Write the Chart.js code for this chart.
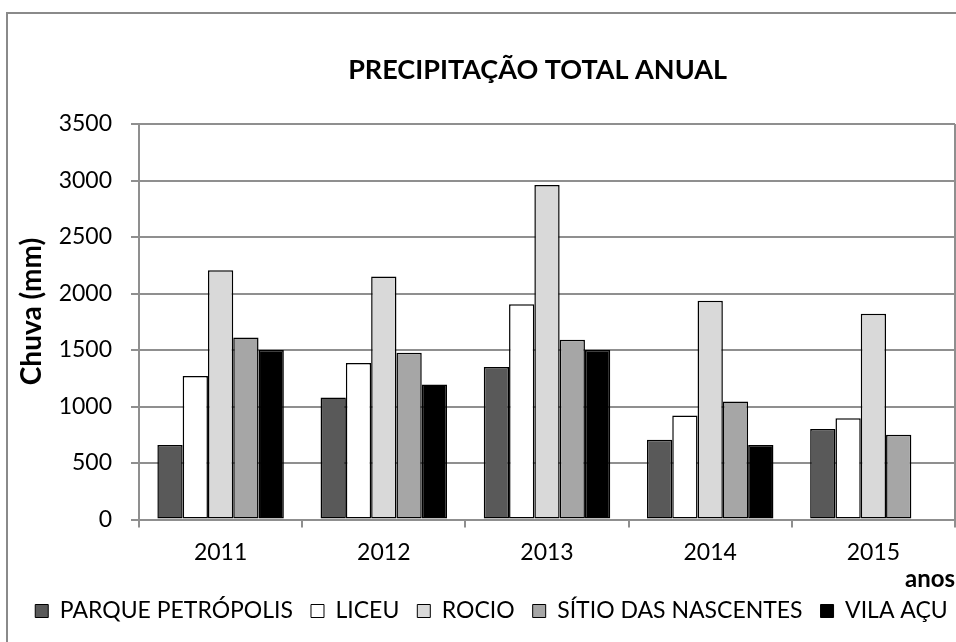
<!DOCTYPE html>
<html>
<head>
<meta charset="utf-8">
<script src="https://cdn.jsdelivr.net/npm/chart.js@4.4.1/dist/chart.umd.min.js"></script>
<style>
  html, body { margin: 0; padding: 0; background: #ffffff; }
  canvas { display: block; }
</style>
</head>
<body>
<canvas id="chart" width="956" height="642"></canvas>
<script>
// ---- data ----
const categories = ['2011', '2012', '2013', '2014', '2015'];
const parquePetropolis = [660, 1080, 1350, 705, 800];
const liceu = [1270, 1385, 1905, 920, 895];
const rocio = [2205, 2150, 2960, 1935, 1820];
const sitioDasNascentes = [1610, 1475, 1590, 1045, 750];
const vilaAcu = [1500, 1195, 1500, 660, null];
const seriesNames = ['PARQUE PETRÓPOLIS', 'LICEU', 'ROCIO', 'SÍTIO DAS NASCENTES', 'VILA AÇU'];
const yTicks = [0, 500, 1000, 1500, 2000, 2500, 3000, 3500];
const chartTitle = 'PRECIPITAÇÃO TOTAL ANUAL';
const yTitle = 'Chuva (mm)';
const xTitle = 'anos';

// ---- styles ----
const FONT = 'Lato, "Open Sans", sans-serif';
const GRID = '#8f8f8f';
const fills = ['#595959', '#ffffff', '#d9d9d9', '#a6a6a6', '#000000'];
const seriesData = [parquePetropolis, liceu, rocio, sitioDasNascentes, vilaAcu];

const frame = {
  id: 'frame',
  beforeDraw(chart) {
    const c = chart.ctx;
    c.save();
    c.fillStyle = '#ffffff';
    c.fillRect(0, 0, chart.width, chart.height);
    c.strokeStyle = '#8a8a8a';
    c.lineWidth = 2;
    c.strokeRect(7, 13, 2000, 2000);
    c.restore();
  }
};

// nudge the legend row a little to the right, as in the reference
const legendShift = {
  id: 'legendShift',
  afterLayout(chart) {
    if (chart.legend) { chart.legend.left += 14; chart.legend.right += 14; }
  }
};

new Chart(document.getElementById('chart'), {
  type: 'bar',
  data: {
    labels: categories,
    datasets: seriesData.map((d, i) => ({
      label: seriesNames[i],
      data: d,
      backgroundColor: fills[i],
      borderColor: '#000000',
      borderWidth: 1.5,
      borderSkipped: false,
      categoryPercentage: 0.775,
      barPercentage: 1.0
    }))
  },
  options: {
    responsive: false,
    devicePixelRatio: 1,
    animation: false,
    layout: { padding: { left: 0, right: 1, top: 14, bottom: 9.5 } },
    plugins: {
      title: {
        display: true,
        text: chartTitle + '\u00a0\u00a0\u00a0',
        color: '#000000',
        fullSize: false,
        font: { family: FONT, size: 27, weight: 'bold' },
        padding: { top: 39.8, bottom: 37.8 }
      },
      legend: {
        position: 'bottom',
        labels: {
          color: '#000000',
          font: { family: FONT, size: 23 },
          boxWidth: 13,
          boxHeight: 13,
          padding: 18,
          generateLabels(chart) {
            const items = Chart.defaults.plugins.legend.labels.generateLabels(chart);
            items.forEach(it => { it.lineWidth = 1; it.strokeStyle = '#000000'; });
            return items;
          }
        }
      },
      tooltip: { enabled: false }
    },
    scales: {
      x: {
        grid: {
          offset: true,
          drawOnChartArea: true,
          color: ctx => (ctx.index === undefined ? GRID : 'rgba(0,0,0,0)'),
          tickColor: GRID,
          tickLength: 8,
          lineWidth: 2
        },
        border: { display: true, color: GRID, width: 2 },
        ticks: { color: '#000000', font: { family: FONT, size: 23 }, padding: 11.7, maxRotation: 0 },
        title: {
          display: true,
          text: xTitle,
          align: 'end',
          color: '#000000',
          font: { family: FONT, size: 24, weight: 'bold' },
          padding: { top: 0, bottom: -11.9 }
        },
        afterFit(scale) { scale.height = 62; }
      },
      y: {
        min: 0,
        max: 3500,
        afterBuildTicks(scale) { scale.ticks = yTicks.map(v => ({ value: v })); },
        grid: { color: GRID, tickColor: GRID, tickLength: 8, lineWidth: 2 },
        border: { display: true, color: GRID, width: 2 },
        ticks: {
          color: '#000000',
          font: { family: FONT, size: 23 },
          padding: 19,
          callback: v => String(v)
        },
        title: {
          display: true,
          text: '\u00a0\u00a0\u00a0' + yTitle,
          color: '#000000',
          font: { family: FONT, size: 28, weight: 'bold' },
          padding: { top: 14.7, bottom: 0 }
        },
        afterFit(scale) { scale.width = 139; }
      }
    }
  },
  plugins: [frame, legendShift]
});
</script>
</body>
</html>
